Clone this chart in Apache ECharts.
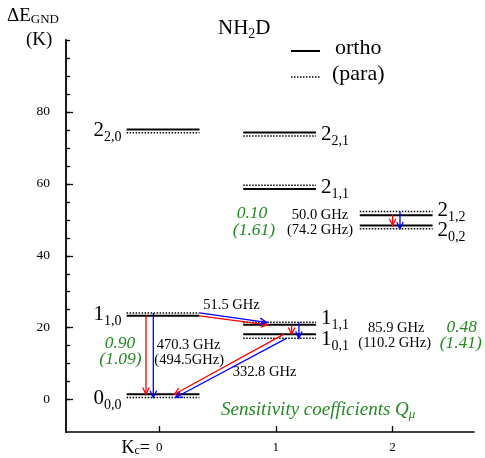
<!DOCTYPE html>
<html><head><meta charset="utf-8">
<script src="https://cdn.jsdelivr.net/npm/echarts@6/dist/echarts.min.js"></script>
<style>html,body{margin:0;padding:0;background:#fff}#c{width:485px;height:458px}</style>
</head><body><div id="c"></div>
<script>
// ---------- data ----------
const levelMain = ['0','1','1','1','2','2','2','2','2'];
const levelSub  = ['0,0','1,0','1,1','0,1','2,0','2,1','1,1','1,2','0,2'];
const levelKc   = [0,0,1,1,0,1,1,2,2];
const orthoE    = [1.5,23.3,20.8,18.2,75.1,74.3,58.6,51.3,48.4];
const paraE     = [0.6,24.1,21.5,17.1,74.2,73.3,59.6,52.3,47.5];
const transFrom = [1,1,2,3,7];
const transTo   = [0,2,3,0,8];
const orthoFreq = ['470.3','51.5','85.9','332.8','50.0'];
const paraFreq  = ['494.5',null,'110.2',null,'74.2'];
const qOrtho    = ['0.90','0.48','0.10'];
const qPara     = ['1.09','1.41','1.61'];
const xTicks    = [0,1,2];
const yMajor    = [0,20,40,60,80];
const yMinor    = [0,5,10,15,20,25,30,35,40,45,50,55,60,65,70,75,80,85,90,95,100];

// ---------- layout ----------
const F = 'Liberation Serif';
const GREEN = '#228B22';
const LEVEL_L = -0.28, LEVEL_R = 0.345;
const arrowXO = [[-0.114,-0.114],[0.345,0.93],[1.136,1.136],[1.07,0.13],[2.002,2.002]];
const arrowXP = [[-0.051,-0.051],[0.345,0.92],[1.198,1.198],[1.095,0.14],[2.065,2.065]];
const labelDy = [2.5,0,-5,3,-1,0.5,0,-3,3.5];

const levelData = [];
levelKc.forEach((k,i)=>{ levelData.push([k, orthoE[i], 0, i]); levelData.push([k, paraE[i], 1, i]); });
const arrowData = [];
transFrom.forEach((f,i)=>{
  const t = transTo[i];
  arrowData.push([arrowXO[i][0], orthoE[f], arrowXO[i][1], orthoE[t], 0]);
  arrowData.push([arrowXP[i][0], paraE[f], arrowXP[i][1], paraE[t], 1]);
});
const labelData = levelKc.map((k,i)=>[k, (orthoE[i]+paraE[i])/2, i]);

const richLevel = {
  m:{fontFamily:F, fontSize:21, lineHeight:28, fill:'#000', color:'#000'},
  s:{fontFamily:F, fontSize:14, verticalAlign:'bottom', fill:'#000', color:'#000'}
};

function txt(x, y, text, o){
  o = o || {};
  return {type:'text', x:x, y:y, silent:true, style:Object.assign({
    text:text, fill:o.color||'#000', font:(o.italic?'italic ':'')+(o.size||14)+'px "'+F+'"',
    align:o.align||'left', verticalAlign:'middle'}, o.rich?{rich:o.rich}:{})};
}
const tsz = 14.5, gsz = 17.5;
const graphics = [
  // title
  txt(218, 28.5, '{m|NH}{s|2}{m|D}', {rich:{m:{fontFamily:F,fontSize:21,lineHeight:26,fill:'#000'},s:{fontFamily:F,fontSize:14,verticalAlign:'bottom',fill:'#000'}}}),
  // legend
  {type:'line', silent:true, shape:{x1:291,y1:51,x2:320,y2:51}, style:{stroke:'#000', lineWidth:2}},
  {type:'line', silent:true, shape:{x1:291,y1:77,x2:320,y2:77}, style:{stroke:'#000', lineWidth:1.5, lineDash:[1.5,1.5]}},
  txt(335, 48, 'ortho', {size:22}),
  txt(332, 74, '(para)', {size:22}),
  // y axis name
  txt(7, 16, '{m|ΔE}{s|GND}', {rich:{m:{fontFamily:F,fontSize:19,lineHeight:20,fill:'#000'},s:{fontFamily:F,fontSize:13,verticalAlign:'bottom',fill:'#000'}}}),
  txt(26, 40, '(K)', {size:19}),
  // Kc label
  txt(150, 448, '{m|K}{s|c}{m|=}', {align:'right', rich:{m:{fontFamily:F,fontSize:18,lineHeight:18,fill:'#000'},s:{fontFamily:F,fontSize:12,verticalAlign:'bottom',fill:'#000'}}}),
  // frequencies
  txt(203.3, 305.5, orthoFreq[1]+' GHz', {size:tsz}),
  txt(156.7, 345, orthoFreq[0]+' GHz', {size:tsz}),
  txt(154.3, 360, '('+paraFreq[0]+'GHz)', {size:tsz}),
  txt(232.7, 371.7, orthoFreq[3]+' GHz', {size:tsz}),
  txt(320, 215, orthoFreq[4]+' GHz', {size:tsz, align:'center'}),
  txt(320, 230, '('+paraFreq[4]+' GHz)', {size:tsz, align:'center'}),
  txt(396.2, 328.3, orthoFreq[2]+' GHz', {size:tsz, align:'center'}),
  txt(394.7, 343.3, '('+paraFreq[2]+' GHz)', {size:tsz, align:'center'}),
  // sensitivity coefficients
  txt(120, 343.3, qOrtho[0], {size:gsz, italic:true, color:GREEN, align:'center'}),
  txt(120.5, 359.5, '('+qPara[0]+')', {size:gsz, italic:true, color:GREEN, align:'center'}),
  txt(461.7, 327, qOrtho[1], {size:gsz, italic:true, color:GREEN, align:'center'}),
  txt(460.8, 343.3, '('+qPara[1]+')', {size:gsz, italic:true, color:GREEN, align:'center'}),
  txt(252, 213.5, qOrtho[2], {size:gsz, italic:true, color:GREEN, align:'center'}),
  txt(254, 230, '('+qPara[2]+')', {size:gsz, italic:true, color:GREEN, align:'center'}),
  txt(221, 410, '{m|Sensitivity coefficients Q}{s|μ}', {rich:{
    m:{fontFamily:F,fontSize:19,fontStyle:'italic',lineHeight:22,fill:GREEN},
    s:{fontFamily:F,fontSize:13,fontStyle:'italic',verticalAlign:'bottom',fill:GREEN}}})
];

const chart = echarts.init(document.getElementById('c'), null, {renderer:'canvas'});
chart.setOption({
  animation:false,
  backgroundColor:'#fff',
  grid:{left:66, right:11, top:40, bottom:26, containLabel:false},
  xAxis:{type:'value', min:-0.8, max:2.7,
    axisLine:{show:true, onZero:false, lineStyle:{color:'#000', width:1.5}},
    axisTick:{show:true, inside:true, length:6, customValues:xTicks, lineStyle:{color:'#000', width:1.3}},
    axisLabel:{show:true, customValues:xTicks, margin:9, fontSize:13, fontFamily:F, color:'#000'},
    splitLine:{show:false}},
  yAxis:[
    {type:'value', min:-9, max:100,
      axisLine:{show:true, onZero:false, lineStyle:{color:'#000', width:1.8}},
      axisTick:{show:true, inside:true, length:7, customValues:yMajor, lineStyle:{color:'#000', width:1.3}},
      axisLabel:{show:true, customValues:yMajor, margin:16, fontSize:13.5, fontFamily:F, color:'#000'},
      splitLine:{show:false}},
    {type:'value', min:-9, max:100, position:'left',
      axisLine:{show:false, onZero:false},
      axisTick:{show:true, inside:true, length:4, customValues:yMinor, lineStyle:{color:'#000', width:1.3}},
      axisLabel:{show:false}, splitLine:{show:false}}
  ],
  series:[
    {type:'custom', name:'levels', clip:false, silent:true, data:levelData, encode:{x:0,y:1},
      renderItem:function(params, api){
        const k=api.value(0), e=api.value(1), t=api.value(2);
        const p1=api.coord([k+LEVEL_L,e]), p2=api.coord([k+LEVEL_R,e]);
        return {type:'line', shape:{x1:p1[0],y1:p1[1],x2:p2[0],y2:p2[1]},
          style: t===0 ? {stroke:'#000', lineWidth:2} : {stroke:'#000', lineWidth:1.5, lineDash:[1.5,1.5]}};
      }},
    {type:'custom', name:'transitions', clip:false, silent:true, data:arrowData, encode:{x:[0,2],y:[1,3]},
      renderItem:function(params, api){
        const a=api.coord([api.value(0),api.value(1)]), b=api.coord([api.value(2),api.value(3)]);
        const col = api.value(4)===0 ? '#ff0000' : '#0000ff';
        const dx=b[0]-a[0], dy=b[1]-a[1], len=Math.hypot(dx,dy), ux=dx/len, uy=dy/len;
        const hl=7.5, c=Math.cos(0.45), s=Math.sin(0.45);
        const h1=[b[0]-hl*(ux*c-uy*s), b[1]-hl*(uy*c+ux*s)];
        const h2=[b[0]-hl*(ux*c+uy*s), b[1]-hl*(uy*c-ux*s)];
        return {type:'group', children:[
          {type:'line', shape:{x1:a[0],y1:a[1],x2:b[0],y2:b[1]}, style:{stroke:col, lineWidth:1.3}},
          {type:'polyline', shape:{points:[h1,b,h2]}, style:{stroke:col, lineWidth:1.3, fill:null}}
        ]};
      }},
    {type:'custom', name:'levelLabels', clip:false, silent:true, data:labelData, encode:{x:0,y:1},
      renderItem:function(params, api){
        const k=api.value(0), e=api.value(1), i=api.value(2);
        const left = k===0;
        const p = api.coord([k+(left?LEVEL_L:LEVEL_R), e]);
        return {type:'text', x:p[0]+(left?-5:5), y:p[1]+labelDy[i],
          style:{text:'{m|'+levelMain[i]+'}{s|'+levelSub[i]+'}', rich:richLevel,
            align:left?'right':'left', verticalAlign:'middle'}};
      }}
  ],
  graphic:graphics
});
</script></body></html>
